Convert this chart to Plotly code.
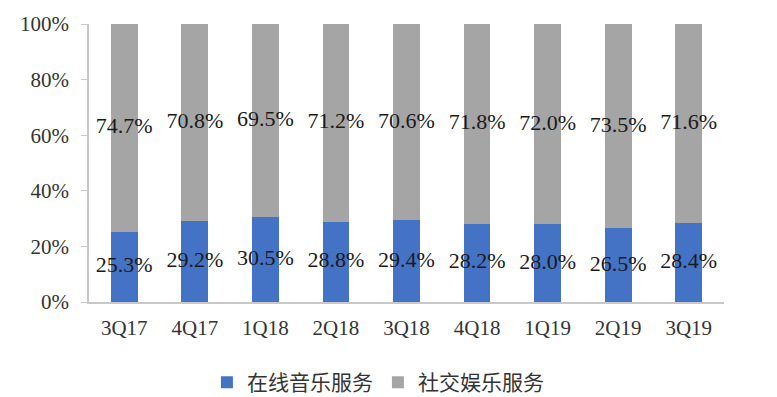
import plotly.graph_objects as go

categories = ["3Q17", "4Q17", "1Q18", "2Q18", "3Q18", "4Q18", "1Q19", "2Q19", "3Q19"]
music = [25.3, 29.2, 30.5, 28.8, 29.4, 28.2, 28.0, 26.5, 28.4]
social = [74.7, 70.8, 69.5, 71.2, 70.6, 71.8, 72.0, 73.5, 71.6]
series_names = ["在线音乐服务", "社交娱乐服务"]

blue = "#4472C4"
gray = "#A5A5A5"
serif = "Liberation Serif, Times New Roman, serif"

fig = go.Figure()
fig.add_trace(go.Bar(x=categories, y=[v / 100 for v in music], name=series_names[0],
                     marker=dict(color=blue, line=dict(width=0))))
fig.add_trace(go.Bar(x=categories, y=[v / 100 for v in social], name=series_names[1],
                     marker=dict(color=gray, line=dict(width=0))))

# labels centered in each segment
fig.add_trace(go.Scatter(x=categories, y=[v / 200 for v in music], mode="text",
                         text=[f"{v:.1f}%" for v in music], showlegend=False,
                         textfont=dict(family=serif, size=22, color="#1a1a1a"),
                         hoverinfo="skip", cliponaxis=False))
fig.add_trace(go.Scatter(x=categories, y=[(m + s / 2) / 100 for m, s in zip(music, social)],
                         mode="text", text=[f"{v:.1f}%" for v in social], showlegend=False,
                         textfont=dict(family=serif, size=22, color="#1a1a1a"),
                         hoverinfo="skip", cliponaxis=False))

fig.update_layout(
    barmode="stack",
    bargap=0.62,
    width=777, height=397,
    margin=dict(l=89, r=53, t=24, b=95, autoexpand=False),
    paper_bgcolor="white", plot_bgcolor="white",
    font=dict(family=serif, size=21, color="#333333"),
    legend=dict(orientation="h", x=0.455, xanchor="center", y=-0.29, yanchor="middle",
                font=dict(family="Noto Sans CJK SC", size=21, color="#333333"),
                itemwidth=30, traceorder="normal"),
    showlegend=True,
)
fig.update_xaxes(showline=True, linecolor="#c8c8c8", linewidth=1.5, ticks="",
                 ticklabelstandoff=6,
                 tickfont=dict(family=serif, size=21, color="#333333"), showgrid=False)
fig.update_yaxes(range=[0, 1], tickvals=[0, 0.2, 0.4, 0.6, 0.8, 1.0], tickformat=".0%",
                 showline=True, linecolor="#c8c8c8", linewidth=1.5, ticks="outside",
                 ticklen=6, tickcolor="#c8c8c8", showgrid=False, zeroline=False,
                 ticklabelstandoff=8,
                 tickfont=dict(family=serif, size=21, color="#333333"))

fig.write_html("out.html")
